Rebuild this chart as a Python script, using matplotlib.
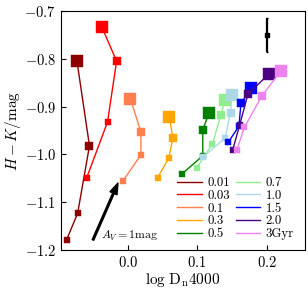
import matplotlib
matplotlib.use('Agg')
import matplotlib.pyplot as plt

plt.rcParams['font.family'] = 'serif'
plt.rcParams['font.serif'] = ['cmr10']
plt.rcParams['mathtext.fontset'] = 'cm'
plt.rcParams['axes.formatter.use_mathtext'] = True

# age tracks, 4 points each (biggest marker first)
ages = ['0.01', '0.03', '0.1', '0.3', '0.5', '0.7', '1.0', '1.5', '2.0', '3Gyr']
colors = ['darkred', 'red', 'coral', 'orange', 'green',
          'lightgreen', 'lightblue', 'blue', 'indigo', 'violet']

dn4000 = [
    [-0.073, -0.055, -0.072, -0.088],
    [-0.037, -0.016, -0.029, -0.059],
    [0.004, 0.019, 0.019, -0.007],
    [0.060, 0.065, 0.059, 0.043],
    [0.117, 0.108, 0.108, 0.078],
    [0.140, 0.134, 0.122, 0.099],
    [0.150, 0.148, 0.140, 0.109],
    [0.178, 0.163, 0.160, 0.145],
    [0.203, 0.173, 0.161, 0.151],
    [0.220, 0.193, 0.168, 0.157],
]
hk = [
    [-0.805, -0.982, -1.123, -1.179],
    [-0.734, -0.805, -0.932, -1.049],
    [-0.884, -0.953, -1.001, -1.056],
    [-0.922, -0.966, -1.008, -1.049],
    [-0.913, -0.949, -1.003, -1.041],
    [-0.886, -0.918, -0.978, -1.029],
    [-0.876, -0.913, -0.966, -1.005],
    [-0.861, -0.893, -0.941, -0.974],
    [-0.832, -0.874, -0.939, -0.991],
    [-0.826, -0.878, -0.943, -0.991],
]
msizes = [9, 6, 5, 4]

# typical error and extinction vector
err_x, err_y, err_dy = 0.200, -0.750, 0.036
av_start = (-0.050, -1.179)
av_end = (-0.014, -1.060)

fig = plt.figure(figsize=(3.08, 2.89), dpi=100)
ax = fig.add_axes([0.198, 0.135, 0.792, 0.827])

for i in range(len(ages)):
    ax.plot(dn4000[i], hk[i], '-', color=colors[i], lw=1.0, label=ages[i])
    for j in range(4):
        ax.plot(dn4000[i][j], hk[i][j], 's', color=colors[i],
                ms=msizes[j], mew=0.3)

ax.errorbar(err_x, err_y, yerr=err_dy, fmt='s', color='k', ms=2.5,
            elinewidth=1.6, capsize=1)

ax.annotate('', xy=av_end, xytext=av_start,
            arrowprops=dict(color='k', width=1.2, headwidth=5.5, headlength=8))
ax.text(av_start[0] + 0.012, av_start[1] + 0.002, r'$A_V=1\mathrm{mag}$',
        fontsize=8.5)

ax.set_xlim(-0.096, 0.255)
ax.set_ylim(-1.2, -0.7)
ax.set_xticks([0.0, 0.1, 0.2])
ax.set_yticks([-1.2, -1.1, -1.0, -0.9, -0.8, -0.7])
ax.tick_params(direction='in', labelsize=10.5)
ax.set_xlabel(r'$\log\,\mathrm{D_n}4000$', fontsize=11, labelpad=0.5)
ax.set_ylabel(r'$H-K/\mathrm{mag}$', fontsize=11, labelpad=1)

ax.legend(ncol=2, loc='lower right', frameon=False, fontsize=9.2,
          handlelength=1.95, columnspacing=0.45, handletextpad=0.4,
          labelspacing=0.05, borderaxespad=0, bbox_to_anchor=(0.975, 0.02))

fig.savefig('out.png', dpi=100)
